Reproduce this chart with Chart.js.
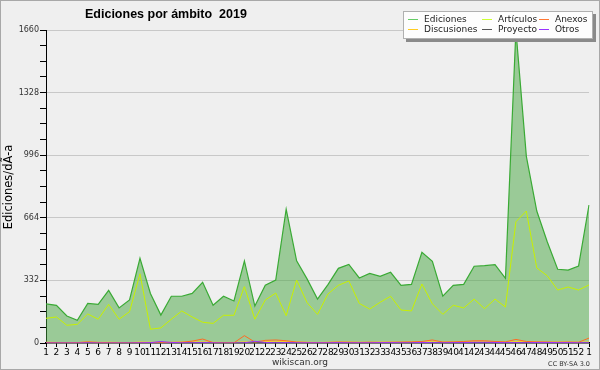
<!doctype html>
<html lang="es">
<head>
<meta charset="utf-8">
<title>Ediciones por ámbito 2019</title>
<script src="https://cdn.jsdelivr.net/npm/chart.js@4.4.1/dist/chart.umd.min.js"></script>
<style>
  html, body { margin: 0; padding: 0; background: #efefef; }
  #wrap { width: 600px; height: 370px; position: relative; }
</style>
</head>
<body>
<div id="wrap"><canvas id="grafico" width="600" height="370"></canvas></div>
<script>
// semanas 1..52 y la primera de 2020
var semanas = [];
for (var s = 1; s <= 52; s++) semanas.push(String(s));
semanas.push("1");

var ediciones = [207,200,143,120,210,205,279,186,228,449,263,148,248,248,263,322,200,248,223,435,
                 196,307,334,710,436,340,233,310,396,417,345,369,354,375,306,311,481,433,249,306,
                 311,407,410,415,343,1660,990,700,537,391,387,408,732];
var articulos = [131,138,94,99,154,126,205,126,166,367,73,80,126,170,138,110,104,147,147,299,
                 126,228,265,145,334,214,152,260,306,329,210,180,216,248,175,170,313,208,152,200,
                 186,233,182,233,191,643,700,398,357,281,297,281,308];
var anexos = [2,1,1,2,6,3,2,1,1,2,2,2,3,4,10,21,2,1,1,39,5,14,16,12,5,3,2,3,5,4,3,4,3,4,5,6,8,16,
              5,6,8,12,12,8,6,19,8,6,5,4,5,4,26];
var discusiones = [4,3,2,2,5,3,4,3,2,5,4,3,4,5,6,6,4,3,3,6,4,8,9,8,5,4,3,4,5,5,4,4,5,5,4,5,6,7,
                   5,5,6,8,8,7,5,8,7,6,5,5,5,4,6];
var proyecto = [1,1,0,0,1,1,1,0,1,1,1,1,1,1,1,2,1,1,0,1,1,1,2,1,1,1,1,1,2,1,1,1,1,1,1,1,2,2,
                1,1,1,2,2,1,1,2,1,2,1,1,1,1,1];
var otros = [0,0,0,0,1,0,0,0,0,1,2,8,3,1,1,2,1,0,0,1,9,3,1,2,1,1,1,1,2,1,1,1,2,2,1,1,3,2,
             1,2,2,4,4,3,2,2,1,3,3,2,2,1,1];

var yMax = 1660;
var yPaso = 332;

// leyenda en dos filas, como en wikiscan
var leyenda = [
  ["Ediciones", "#66cc66"], ["Artículos", "#ccff33"], ["Anexos", "#ff7733"],
  ["Discusiones", "#ffcc22"], ["Proyecto", "#555555"], ["Otros", "#9933ff"]
];

function serie(label, data, color, orden, ancho) {
  return {
    label: label, data: data, borderColor: color, borderWidth: ancho || 1,
    pointRadius: 0, tension: 0, fill: false, order: orden
  };
}

var extras = {
  id: "extras",
  beforeDraw: function (chart) {
    var c = chart.ctx;
    c.save();
    c.fillStyle = "#efefef";
    c.fillRect(0, 0, 600, 370);
    c.strokeStyle = "#a8a8a8";
    c.lineWidth = 1;
    c.strokeRect(0.5, 0.5, 599, 369);
    c.restore();
  },
  afterDraw: function (chart) {
    var c = chart.ctx;
    c.save();
    // titulo
    c.fillStyle = "#000";
    c.font = "bold 12.5px 'Liberation Sans'";
    c.textAlign = "left";
    c.textBaseline = "alphabetic";
    c.fillText("Ediciones por ámbito  2019", 85, 18);
    // titulo eje y
    c.save();
    c.translate(12, 187);
    c.rotate(-Math.PI / 2);
    c.textAlign = "center";
    c.font = "11.5px 'DejaVu Sans'";
    c.fillText("Ediciones/dÃ-a", 0, 0);
    c.restore();
    // pie
    c.fillStyle = "#333";
    c.font = "9px 'DejaVu Sans'";
    c.textAlign = "center";
    c.fillText("wikiscan.org", 300, 365);
    c.font = "6.5px 'DejaVu Sans'";
    c.textAlign = "right";
    c.fillText("CC BY-SA 3.0", 590, 366);
    // leyenda
    c.fillStyle = "#8a8a8a";
    c.fillRect(406, 14, 190, 28);
    c.fillStyle = "#fdfdfd";
    c.fillRect(403, 11, 190, 28);
    c.strokeStyle = "#b0b0b0";
    c.strokeRect(403.5, 11.5, 189, 27);
    var colX = [408, 482, 539];
    c.font = "9px 'DejaVu Sans'";
    c.textAlign = "left";
    c.textBaseline = "middle";
    leyenda.forEach(function (it, i) {
      var x = colX[i % 3], y = i < 3 ? 19.5 : 29.5;
      c.strokeStyle = it[1];
      c.lineWidth = 1;
      c.beginPath();
      c.moveTo(x, y);
      c.lineTo(x + 10, y);
      c.stroke();
      c.fillStyle = "#222";
      c.fillText(it[0], x + 16, y);
    });
    c.restore();
  }
};

var ed = serie("Ediciones", ediciones, "#3aaa35", 6, 1.2);
ed.fill = "origin";
ed.backgroundColor = "rgba(70,165,63,0.5)";

new Chart(document.getElementById("grafico"), {
  type: "line",
  data: {
    labels: semanas,
    datasets: [
      ed,
      serie("Artículos", articulos, "#c8f000", 5),
      serie("Discusiones", discusiones, "#ffcc22", 4),
      serie("Proyecto", proyecto, "#555555", 3),
      serie("Anexos", anexos, "#ff6a22", 2),
      serie("Otros", otros, "#9933ff", 1)
    ]
  },
  options: {
    responsive: false,
    animation: false,
    layout: { padding: { top: 30, right: 11, bottom: 0, left: 0 } },
    plugins: {
      legend: { display: false },
      tooltip: { enabled: false },
      filler: { drawTime: "beforeDatasetsDraw" }
    },
    scales: {
      x: {
        offset: false,
        afterFit: function (s) { s.height = 27; },
        border: { color: "#000", width: 1.5 },
        grid: { drawOnChartArea: false, tickLength: 4, tickColor: "#000" },
        ticks: {
          autoSkip: false, maxRotation: 0, minRotation: 0, padding: 0,
          color: "#000", font: { family: "DejaVu Sans", size: 9 }
        }
      },
      y: {
        min: 0, max: yMax,
        afterFit: function (s) { s.width = 46; },
        border: { color: "#000", width: 1 },
        grid: {
          tickLength: 6, tickColor: "#000",
          color: function (ctx) {
            var v = ctx.tick ? ctx.tick.value : 0;
            return (v > 0 && v % yPaso === 0) ? "#c8c8c8" : "rgba(0,0,0,0)";
          }
        },
        ticks: {
          stepSize: yPaso / 4, maxTicksLimit: 100, autoSkip: false, padding: 1,
          color: "#333", font: { family: "DejaVu Sans", size: 8 },
          callback: function (v) { return v % yPaso === 0 ? v : ""; }
        }
      }
    }
  },
  plugins: [extras]
});
</script>
</body>
</html>
